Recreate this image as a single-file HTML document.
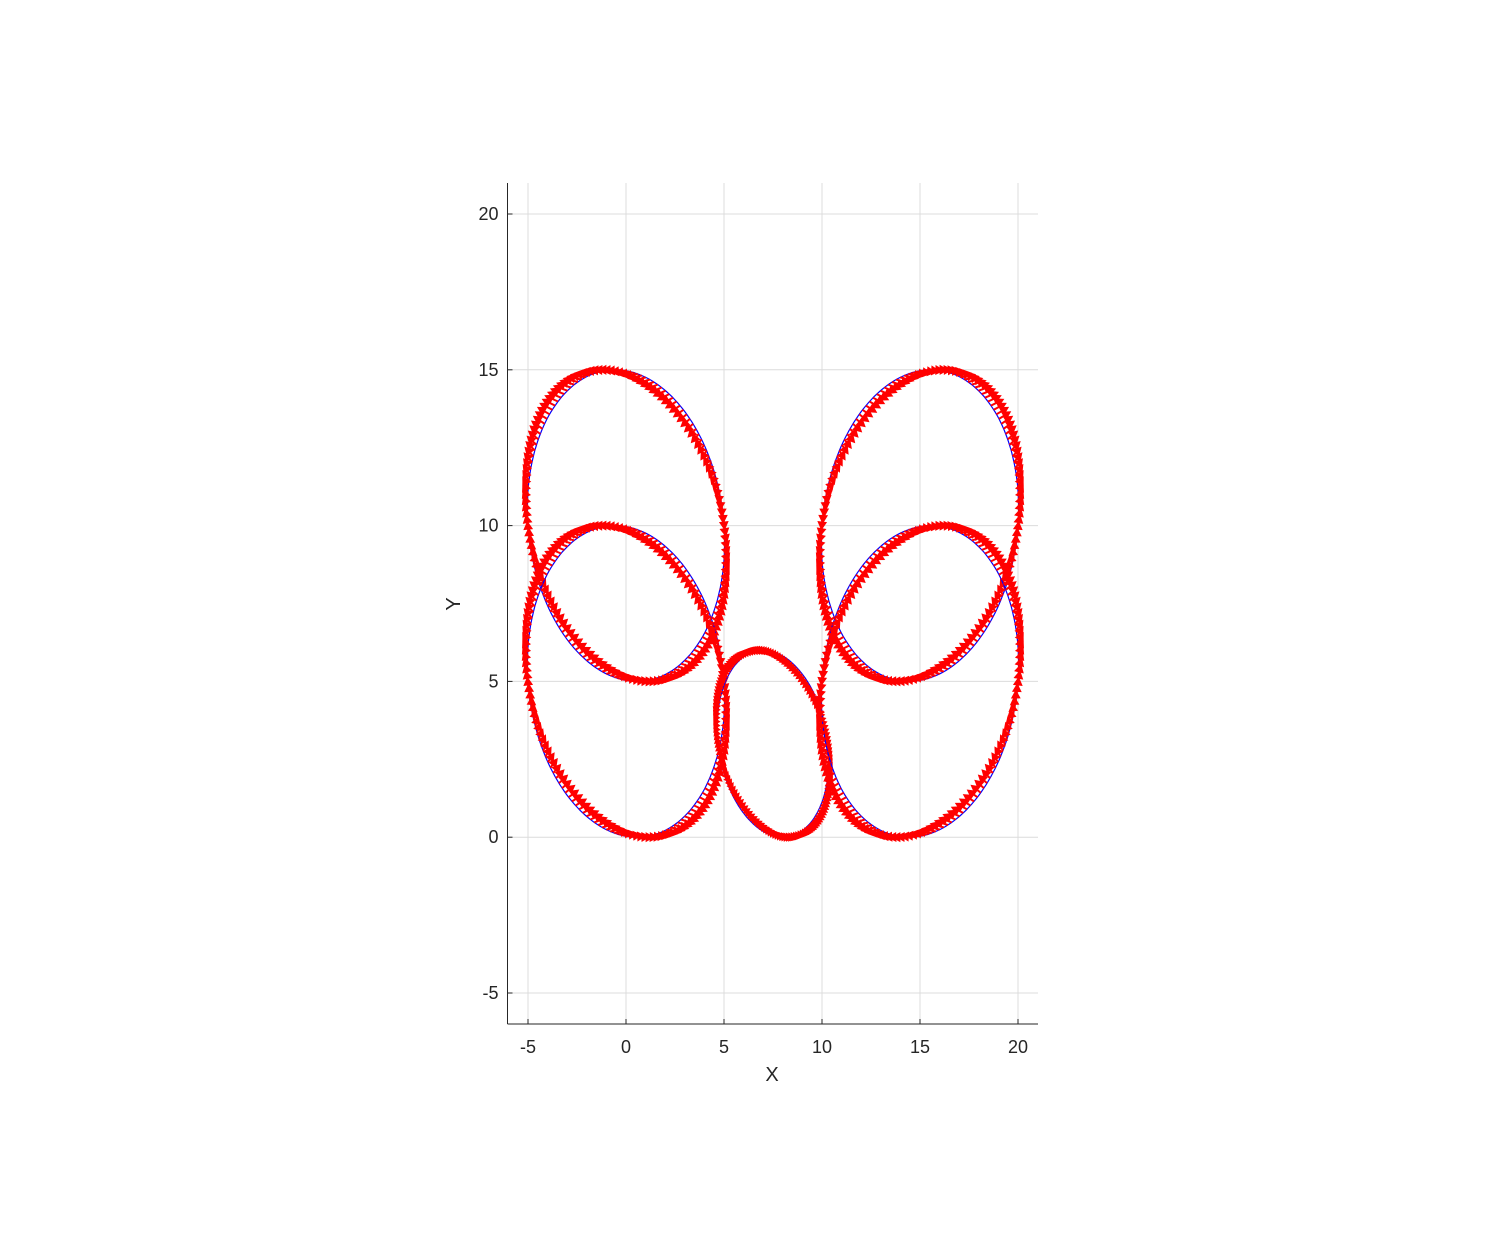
<!DOCTYPE html>
<html><head><meta charset="utf-8"><style>
body{margin:0;background:#fff;}
svg{display:block;font-family:"Liberation Sans","DejaVu Sans",sans-serif;}
</style></head><body>
<svg id="c" width="1494" height="1252"></svg>
<script>
const xTicks=[-5,0,5,10,15,20];
const yTicks=[-5,0,5,10,15,20];
const ellCx=[0,0,7.5,15,15];
const ellCy=[10,5,3,10,5];
const ellRx=[5,5,2.8,5,5];
const ellRy=[5,5,3,5,5];
const ellSkew=[-0.56,-0.56,-0.5,0.56,0.56];
const ellShift=[-1.0,-1.0,-0.6,1.0,1.0];
const NS="http://www.w3.org/2000/svg";
const svg=document.getElementById('c');
const L=507.5,R=1038,T=183,B=1024;
const sx=v=>528+(v+5)*19.6;
const sy=v=>993-(v+5)*31.16;
function mk(tag,attrs,parent){const e=document.createElementNS(NS,tag);for(const k in attrs)e.setAttribute(k,attrs[k]);(parent||svg).appendChild(e);return e;}
const grid=mk('g',{});


xTicks.forEach(t=>{mk('line',{x1:sx(t),x2:sx(t),y1:T,y2:B,stroke:'#dcdcdc','stroke-width':1},grid);});
yTicks.forEach(t=>{mk('line',{x1:L,x2:R,y1:sy(t),y2:sy(t),stroke:'#dcdcdc','stroke-width':1},grid);});
const series=mk('g',{});


const N=150;
for(let i=0;i<ellCx.length;i++){
  const cx=ellCx[i],cy=ellCy[i],rx=ellRx[i],ry=ellRy[i],sk=ellSkew[i],sh=ellShift[i];
  const pt=(t,s)=>[cx+rx*Math.cos(t)+s*Math.sin(t),cy+ry*Math.sin(t)];
  let d='';
  for(let k=0;k<=200;k++){const p=pt(k/200*2*Math.PI,sk);d+=(k?'L':'M')+sx(p[0]).toFixed(1)+','+sy(p[1]).toFixed(1);}
  const bl=mk('path',{d:d,fill:'none',stroke:'#0000ff','stroke-width':1.2},series);
  
  
  const q=mk('g',{stroke:'#ff0000','stroke-width':2,fill:'#ff0000'},series);
  
  
  const dir=sh<0?-1:1;
  for(let k=0;k<N;k++){
    const t=k/N*2*Math.PI;
    const p=pt(t,sk);
    const tp=pt(t+dir*0.06,sk+sh);
    const x1=sx(p[0]),y1=sy(p[1]),x2=sx(tp[0]),y2=sy(tp[1]);
    const len=Math.hypot(x2-x1,y2-y1);
    const a=Math.atan2(y2-y1,x2-x1),h=Math.min(7,len*0.5+2);
    mk('path',{d:`M${x1.toFixed(1)},${y1.toFixed(1)}L${x2.toFixed(1)},${y2.toFixed(1)}M${(x2-h*Math.cos(a-0.5)).toFixed(1)},${(y2-h*Math.sin(a-0.5)).toFixed(1)}L${x2.toFixed(1)},${y2.toFixed(1)}L${(x2-h*Math.cos(a+0.5)).toFixed(1)},${(y2-h*Math.sin(a+0.5)).toFixed(1)}Z`},q);
  }
}
const ax=mk('g',{});


mk('line',{x1:L,x2:L,y1:T,y2:B,stroke:'#262626','stroke-width':1},ax);
mk('line',{x1:L,x2:R,y1:B,y2:B,stroke:'#262626','stroke-width':1},ax);
xTicks.forEach(t=>{
  mk('line',{x1:sx(t),x2:sx(t),y1:B,y2:B-5,stroke:'#262626'},ax);
  const e=mk('text',{x:sx(t),y:B+29,'text-anchor':'middle','font-size':18,fill:'#262626'},ax);e.textContent=t;
  
  
});
yTicks.forEach(t=>{
  mk('line',{x1:L,x2:L+5,y1:sy(t),y2:sy(t),stroke:'#262626'},ax);
  const e=mk('text',{x:L-9,y:sy(t)+6,'text-anchor':'end','font-size':18,fill:'#262626'},ax);e.textContent=t;
  
  
});
</script>
<svg style="position:absolute;left:0;top:0" width="1494" height="1252">
<text x="772" y="1081" text-anchor="middle" font-size="20" fill="#262626">X</text>
<text x="460" y="604" text-anchor="middle" font-size="20" fill="#262626" transform="rotate(-90 460 604)">Y</text>
</svg>
</body></html>
